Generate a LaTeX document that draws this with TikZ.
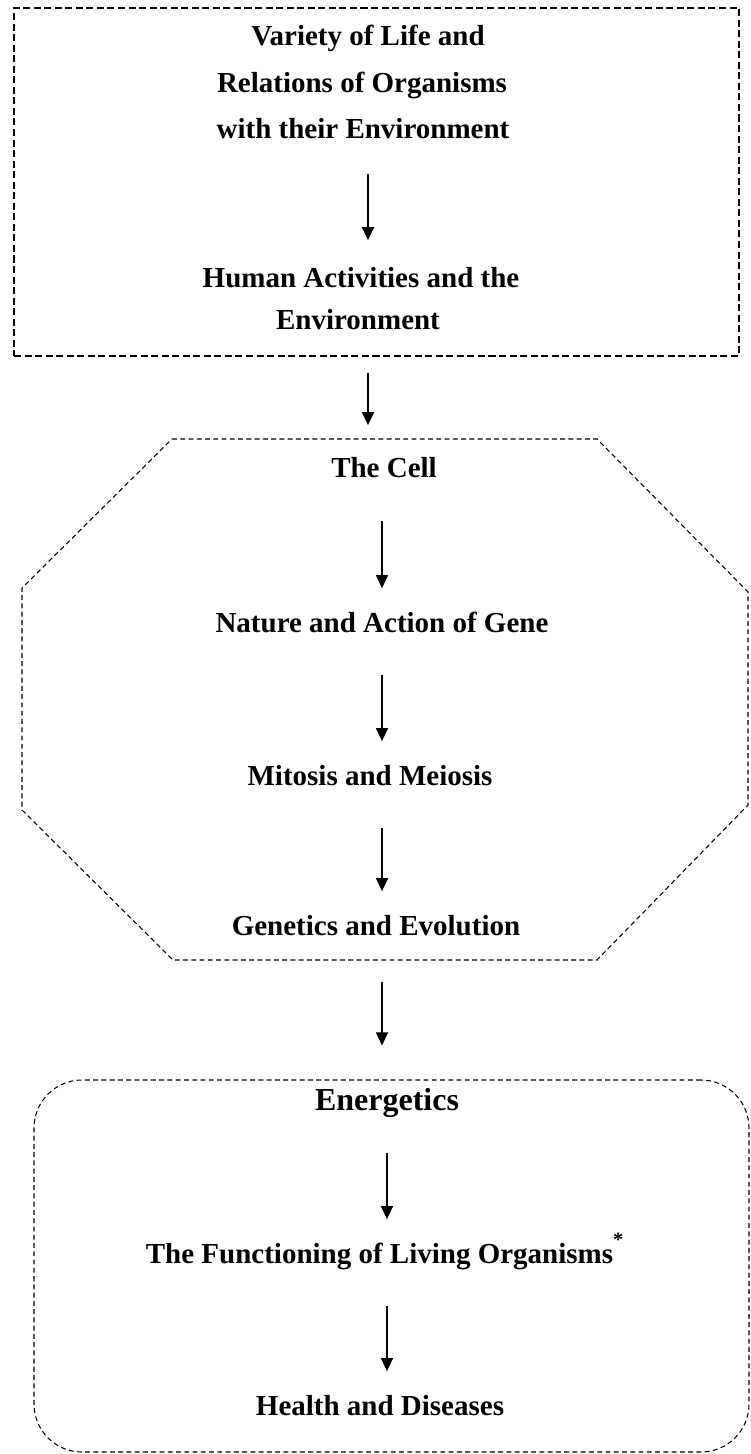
\documentclass[tikz,border=0pt]{standalone}
\usepackage{fontspec}
\setmainfont{Liberation Serif}
\usepackage{tikz}
\usetikzlibrary{arrows.meta}

\begin{document}
\begin{tikzpicture}[
        topic/.style={font=\fontsize{16.5}{20}\selectfont\bfseries, inner sep=0pt, text height=0.4cm, text depth=0.15cm, anchor=base},
        bigtopic/.style={topic, font=\fontsize{18.2}{22}\selectfont\bfseries},
        flow/.style={-{Triangle[length=0.26cm,width=0.24cm]}, line width=0.7pt},
        inflow/.style={flow, shorten <=0.7cm, shorten >=0.47cm},
        thickdash/.style={line width=1.1pt, dash pattern=on 4pt off 2pt},
        thindash/.style={line width=0.6pt, dash pattern=on 2.8pt off 1.9pt}
    ]
        \useasboundingbox (0,0) rectangle (15.02,-29.08);

        % Top box
        \node[draw, thickdash, inner sep=0pt, minimum width=14.5cm, minimum height=6.96cm] (topbox) at (7.53,-3.64) {};
        \node[topic] (variety) at (7.36,-0.92) {Variety of Life and};
        \node[topic] (relations) at (7.24,-1.86) {Relations of Organisms};
        \node[topic] (withenv) at (7.26,-2.78) {with their Environment};
        \node[topic] (human) at (7.22,-5.76) {Human Activities and the};
        \node[topic] (humanenv) at (7.16,-6.60) {Environment};

        % Octagon
        \draw[thindash] (3.44,-8.78) -- (11.94,-8.78) -- (14.96,-11.84) -- (14.96,-16.10)
            -- (11.94,-19.20) -- (3.46,-19.20) -- (0.44,-16.20) -- (0.44,-11.76) -- cycle;
        \coordinate (octbottom) at (7.64,-19.20);
        \node[topic] (cell) at (7.68,-9.56) {The Cell};
        \node[topic] (gene) at (7.64,-12.64) {Nature and Action of Gene};
        \node[topic] (mitosis) at (7.40,-15.70) {Mitosis and Meiosis};
        \node[topic] (genetics) at (7.52,-18.70) {Genetics and Evolution};

        % Bottom box
        \node[draw, thindash, rounded corners=0.96cm, inner sep=0pt, minimum width=14.3cm, minimum height=7.44cm] (enbox) at (7.83,-25.32) {};
        \node[bigtopic] (ener) at (7.74,-22.20) {Energetics};
        \node[topic] (func) at (7.70,-25.26) {The Functioning of Living Organisms\textsuperscript{\raisebox{3pt}{*}}};
        \node[topic] (health) at (7.60,-28.30) {Health and Diseases};

        % Arrows
        \draw[flow, shorten <=0.54cm, shorten >=0.55cm] (withenv.south -| variety) -- (human.north -| variety);
        \draw[flow, shorten <=0.32cm, shorten >=0.65cm] (topbox.south -| variety) -- (cell.north -| variety);
        \draw[inflow] (cell.south -| gene) -- (gene.north);
        \draw[inflow] (gene.south) -- (mitosis.north -| gene);
        \draw[inflow] (mitosis.south -| gene) -- (genetics.north -| gene);
        \draw[flow, shorten <=0.44cm, shorten >=0.68cm] (octbottom -| gene) -- (enbox.north -| gene);
        \draw[inflow] (ener.south) -- (func.north -| ener);
        \draw[inflow] (func.south -| ener) -- (health.north -| ener);
    \end{tikzpicture}
\end{document}
